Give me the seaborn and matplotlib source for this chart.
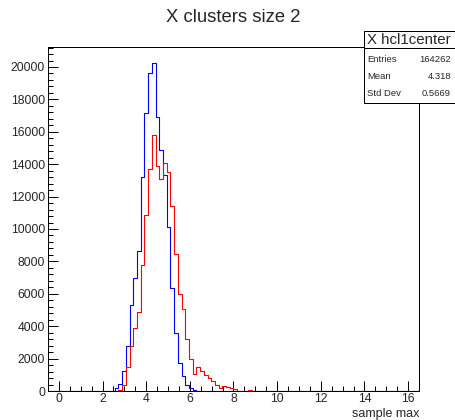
import matplotlib
matplotlib.use("Agg")
import matplotlib.pyplot as plt
import seaborn as sns
import numpy as np
import pandas as pd
from matplotlib.ticker import MultipleLocator
from matplotlib.patches import Rectangle
from matplotlib.lines import Line2D

# ---- data -------------------------------------------------------------
title = "X clusters size 2"
x_label = "sample max"
x_min, x_max, n_bins = -0.5, 16.5, 100
first_bin = 17  # index of first listed bin
blue_counts = [30, 200, 420, 1220, 2790, 5280, 7000, 8670, 13200, 17180,
               19650, 20230, 16900, 14850, 13330, 10140, 6380, 3560, 1700,
               900, 370, 165, 50, 10]
red_counts = [0, 20, 60, 370, 1460, 2790, 3910, 4900, 7800, 10860,
              13680, 15780, 13900, 13090, 14050, 13520, 11430, 8430, 5990,
              5060, 3190, 2000, 1040, 1460, 1260, 1000, 800, 600, 400,
              200, 320, 250, 185, 100, 0, 0, 0, 60]
stats_name = "X hcl1center"
stats_labels = ["Entries", "Mean", "Std Dev"]
stats_values = ["164262", "4.318", "0.5669"]
y_max = 21216

# ---- build table ------------------------------------------------------
edges = np.linspace(x_min, x_max, n_bins + 1)
centers = 0.5 * (edges[:-1] + edges[1:])
blue = np.zeros(n_bins)
blue[first_bin:first_bin + len(blue_counts)] = blue_counts
red = np.zeros(n_bins)
red[first_bin:first_bin + len(red_counts)] = red_counts
df_blue = pd.DataFrame({"x": centers, "w": blue})
df_red = pd.DataFrame({"x": centers, "w": red})
bin_list = [float(e) for e in edges]

# ---- figure -----------------------------------------------------------
sns.set_theme(style="ticks")
plt.rcParams['font.family'] = ['Liberation Sans', 'DejaVu Sans']
W, H = 456, 420
fig = plt.figure(figsize=(W / 100, H / 100), dpi=100)
L, R, T, B = 48, 419, 47.3, 391
ax = fig.add_axes([L / W, 1 - B / H, (R - L) / W, (B - T) / H])

lw = 0.8
sns.histplot(data=df_blue, x="x", weights="w", bins=bin_list, element="step",
             fill=False, color="#0000ff", linewidth=lw, ax=ax)
sns.histplot(data=df_red, x="x", weights="w", bins=bin_list, element="step",
             fill=False, color="#ff0000", linewidth=lw, ax=ax)

ax.set_xlim(x_min, x_max)
ax.set_ylim(0, y_max)
ax.set_ylabel("")
ax.set_xlabel(x_label, fontsize=9.0, loc="right")
ax.xaxis.set_label_coords(1.0, -0.049)
ax.xaxis.label.set_va("top")

ax.xaxis.set_major_locator(MultipleLocator(2))
ax.xaxis.set_minor_locator(MultipleLocator(0.5))
ax.yaxis.set_major_locator(MultipleLocator(2000))
ax.yaxis.set_minor_locator(MultipleLocator(400))
ax.tick_params(which="major", direction="in", length=7.2, width=0.72,
               top=False, right=False, labelsize=8.8, color="black")
ax.tick_params(which="minor", direction="in", length=3.6, width=0.72,
               top=False, right=False, color="black")
ax.tick_params(axis="x", pad=1.6)
ax.tick_params(axis="y", pad=2.2)
for s in ax.spines.values():
    s.set_linewidth(0.72)
    s.set_color("black")
    s.set_visible(True)

fig.text(233 / W, 1 - 18 / H, title, ha="center", va="center", fontsize=13.3)

# ---- stats box --------------------------------------------------------
def fx(px):
    return px / W

def fy(py):
    return 1 - py / H

bx0, bx1, by0, by1, bhead = 364, 455, 31, 103, 48
fig.add_artist(Rectangle((fx(bx0), fy(by1)), fx(bx1) - fx(bx0), fy(by0) - fy(by1),
                         transform=fig.transFigure, facecolor="white",
                         edgecolor="black", linewidth=0.72, zorder=5))
fig.add_artist(Line2D([fx(bx0), fx(bx1)], [fy(bhead), fy(bhead)],
                      transform=fig.transFigure, color="black",
                      linewidth=0.72, zorder=6))
fig.text(fx(367), fy(40), stats_name, ha="left", va="center",
         fontsize=10.8, zorder=7)
row_y = [59, 76.5, 94]
for lab, val, yy in zip(stats_labels, stats_values, row_y):
    fig.text(fx(367), fy(yy), lab, ha="left", va="center", fontsize=6.8, zorder=7)
    fig.text(fx(451), fy(yy), val, ha="right", va="center", fontsize=6.8, zorder=7)

fig.savefig("out.png", dpi=100)
